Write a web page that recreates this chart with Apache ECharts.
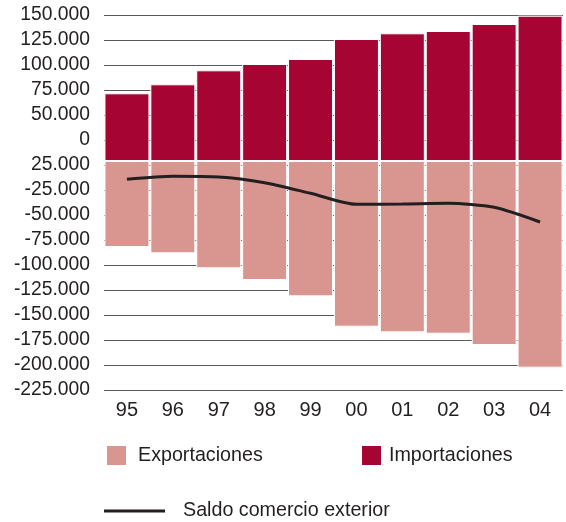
<!DOCTYPE html>
<html>
<head>
<meta charset="utf-8">
<script src="https://cdn.jsdelivr.net/npm/echarts@6/dist/echarts.min.js"></script>
<style>
html,body{margin:0;padding:0;background:#fff;}
#chart{width:566px;height:522px;}
</style>
</head>
<body>
<div id="chart"></div>
<script>
var categories = ['95','96','97','98','99','00','01','02','03','04'];
var importaciones = [67700, 76700, 90700, 97000, 102000, 122000, 127700, 130000, 137000, 145300];
var exportaciones = [-86000, -92300, -107300, -119000, -135300, -165700, -171300, -172700, -184000, -206700];
var saldo = [-18300, -15300, -16000, -21700, -32300, -43300, -43000, -42300, -46300, -61000];
// tick labels as printed, top to bottom
var yTickLabels = ['150.000','125.000','100.000','75.000','50.000','0','25.000','-25.000','-50.000','-75.000','-100.000','-125.000','-150.000','-175.000','-200.000','-225.000'];

var FONT = 'Liberation Sans';
var TXT = '#231f20';
var yMin = -225000, yMax = 150000, yStep = 25000;

var chart = echarts.init(document.getElementById('chart'), null, {renderer:'canvas'});
chart.setOption({
  animation: false,
  backgroundColor: '#fff',
  textStyle: {fontFamily: FONT},
  grid: {left: 104, right: 3, top: 15, bottom: 132, containLabel: false},
  xAxis: {
    type: 'category',
    data: categories,
    axisLine: {show: false},
    axisTick: {show: false},
    axisLabel: {color: TXT, fontSize: 20, fontFamily: FONT, margin: 10}
  },
  yAxis: [
    {
      type: 'value',
      min: yMin, max: yMax, interval: yStep,
      axisLine: {show: false},
      axisTick: {show: false},
      splitLine: {show: true, lineStyle: {color: '#5a5a5a', width: 1.2}},
      axisLabel: {
        color: TXT, fontSize: 19.3, fontFamily: FONT, margin: 14,
        formatter: function (v) {
          var idx = Math.round((yMax - v) / yStep);
          return yTickLabels[idx] !== undefined ? yTickLabels[idx] : '';
        }
      }
    },
    {
      type: 'value',
      show: false,
      min: yMin - 4000, max: yMax - 4000,
      splitLine: {show: false}
    }
  ],
  legend: [
    {
      left: 100, top: 439, itemWidth: 21, itemHeight: 21,
      data: [{name: 'Exportaciones', icon: 'rect'}],
      textStyle: {color: TXT, fontSize: 19.7, fontFamily: FONT, padding: [0,0,0,6]}
    },
    {
      left: 355, top: 439, itemWidth: 21, itemHeight: 21,
      data: [{name: 'Importaciones', icon: 'rect'}],
      textStyle: {color: TXT, fontSize: 19.7, fontFamily: FONT, padding: [0,0,0,2]}
    },
    {
      left: 99, top: 496, itemWidth: 61, itemHeight: 3,
      data: [{name: 'Saldo comercio exterior', icon: 'rect'}],
      textStyle: {color: TXT, fontSize: 19.7, fontFamily: FONT, padding: [0,0,0,13]}
    }
  ],
  series: [
    {
      name: 'Importaciones',
      type: 'bar',
      yAxisIndex: 1,
      data: importaciones,
      barCategoryGap: '2%',
      barGap: '-100%',
      itemStyle: {color: '#a60433', borderColor: '#fff', borderWidth: 1},
      z: 2
    },
    {
      name: 'Exportaciones',
      type: 'bar',
      yAxisIndex: 1,
      data: exportaciones,
      barCategoryGap: '2%',
      barGap: '-100%',
      itemStyle: {color: '#d99590', borderColor: '#fff', borderWidth: 1},
      z: 2
    },
    {
      name: 'Saldo comercio exterior',
      type: 'line',
      yAxisIndex: 1,
      data: saldo,
      smooth: 0.25,
      showSymbol: false,
      symbol: 'none',
      lineStyle: {color: '#231f20', width: 3},
      itemStyle: {color: '#231f20'},
      z: 5
    }
  ]
});
</script>
</body>
</html>
